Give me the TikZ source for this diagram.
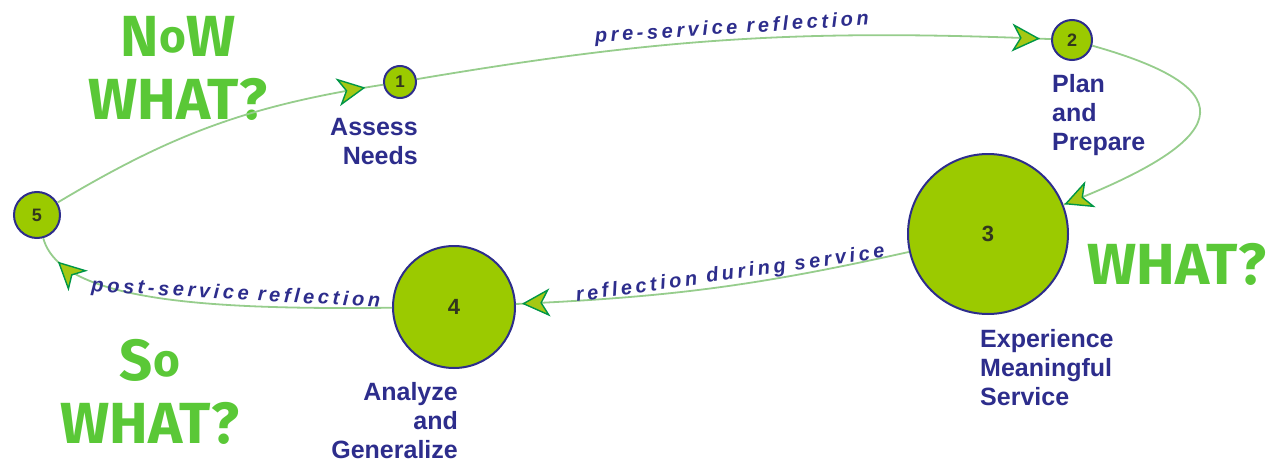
\documentclass[tikz,border=0pt]{standalone}
\usepackage{fontspec}
\setmainfont{Liberation Sans}
\newfontfamily\edgefont[LetterSpace=18]{Liberation Sans}
\newfontfamily\shoutfont{Fira Sans}
\usetikzlibrary{positioning,arrows.meta,decorations.markings}
\definecolor{navy}{RGB}{45,45,140}
\definecolor{stagefill}{RGB}{155,202,0}
\definecolor{pathgreen}{RGB}{150,205,140}
\definecolor{tipdark}{RGB}{0,150,70}
\definecolor{tiplight}{RGB}{165,200,20}
\definecolor{shoutgreen}{RGB}{90,200,55}
\definecolor{digit}{RGB}{50,55,30}
\newcommand\smallo{\raisebox{4pt}{\fontsize{46}{46}\selectfont o}}
\tikzset{
    stage/.style = {circle, draw=navy, line width=2pt, fill=stagefill,
        inner sep=0pt, text=digit},
    stagetext/.style = {text=navy, inner sep=0pt,
        font=\fontsize{25}{29}\selectfont\bfseries},
    track/.style = {draw=pathgreen, line width=1.8pt},
    tipat/.style = {postaction={decorate}, decoration={markings,
        mark=at position #1 with {\arrow{Stealth[length=28pt,width=28pt,inset=8pt,
            color=tipdark,fill=tiplight,line width=1.4pt]}}}},
    reflect/.style = {text=navy, sloped, above, inner sep=1pt,
        font=\edgefont\fontsize{20}{22}\selectfont\bfseries\itshape},
    shout/.style = {text=shoutgreen, align=center, inner sep=0pt,
        font=\shoutfont\fontsize{58}{63}\selectfont\bfseries}
}

\begin{document}
\begin{tikzpicture}[x=1pt, y=-1pt]
        \useasboundingbox (0,0) rectangle (1278,463);
        % the five stages
        \foreach \n/\x/\y/\diam/\fs in {1/400/82/32/17, 2/1072/40/40/18, 3/988/234/160/22, 4/454/307/122/22, 5/37/215/46/18}{
            \node [stage, minimum size=\diam pt, font=\fontsize{\fs}{\fs}\selectfont\bfseries] (n\n) at (\x,\y) {\n};
        }
        \node [stagetext, align=right, below left=19pt and -18pt of n1.south] (assess) {Assess\\Needs};
        \node [stagetext, align=left, below right=13pt and -20pt of n2.south] (plan) {Plan\\and\\Prepare};
        \node [stagetext, align=left, below right=14pt and -8pt of n3.south] (experience) {Experience\\Meaningful\\Service};
        \node [stagetext, align=right, below left=13pt and -4pt of n4.south] (analyze) {Analyze\\and\\Generalize};
        % the questions
        \node [shout] (nowwhat) at (178,68) {N\smallo W\\WHAT?};
        \node [shout] (what) at (1177,264) {WHAT?};
        \node [shout] (sowhat) at (150,392) {S\smallo\\WHAT?};
        % the cycle
        \draw [track, tipat=-18pt] (n5) to[bend left=11] (n1);
        \draw [track, tipat=-11pt] (n1) to[bend left=6] node [reflect, pos=0.5] (pre) {pre-service reflection} (n2);
        \draw [track, tipat=-1pt] (n2) .. controls (1250,90) and (1230,140) .. (n3);
        \draw [track, tipat=-6pt] (n3) to[bend left=5] node [reflect, pos=0.45] (during) {reflection during service} (n4);
        \draw [track, tipat=-28pt] (n4) .. controls (200,310) and (60,300) .. node [reflect, pos=0.3] (post) {post-service reflection} (n5);
\end{tikzpicture}
\end{document}
